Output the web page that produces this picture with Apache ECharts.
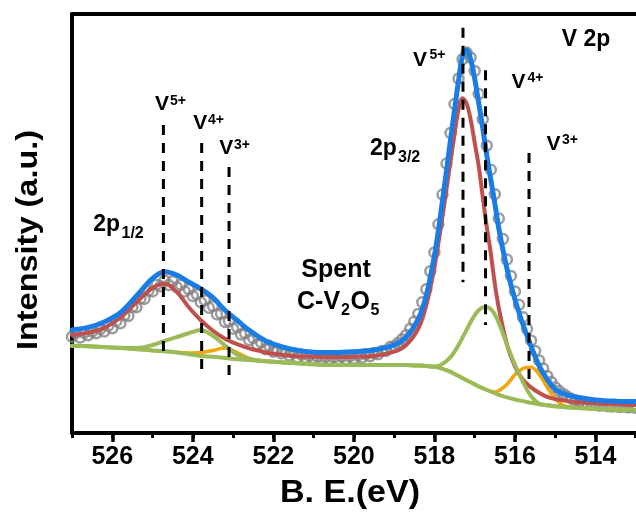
<!DOCTYPE html>
<html>
<head>
<meta charset="utf-8">
<title>V 2p XPS</title>
<script src="https://cdn.jsdelivr.net/npm/echarts@6/dist/echarts.min.js"></script>
<style>
  html, body { margin: 0; padding: 0; background: #fff; }
  #chart { width: 636px; height: 521px; }
</style>
</head>
<body>
<div id="chart"></div>
<script>
// ---- measured spectrum (binding energy grid 527.0 -> 513.0 eV, 0.1 eV step) ----
const E_START = 527.0;
const E_STEP = 0.1;
const measured = [
  23.0,
  23.9, 22.8, 23.9, 23.3, 24.2, 23.8, 24.8, 24.2, 25.6, 25.0,
  26.7, 26.2, 28.1, 27.9, 30.1, 30.0, 32.1, 32.0, 34.0, 33.8,
  35.4, 35.0, 36.4, 35.3, 36.2, 34.8, 35.4, 33.8, 34.3, 32.7,
  33.1, 31.2, 31.7, 29.9, 30.3, 28.3, 28.5, 26.5, 26.7, 24.9,
  25.3, 23.5, 23.8, 22.2, 22.7, 21.1, 21.6, 20.0, 20.8, 19.4,
  20.0, 19.0, 19.4, 18.5, 19.1, 18.1, 18.7, 17.9, 18.4, 17.7,
  18.2, 17.5, 18.1, 17.4, 18.0, 17.5, 18.2, 17.6, 18.3, 17.7,
  18.5, 18.0, 18.8, 18.3, 19.1, 18.8, 19.6, 19.6, 20.5, 20.7,
  21.5, 22.4, 23.4, 24.9, 26.6, 28.4, 31.2, 34.3, 38.6, 43.1,
  49.8, 56.9, 64.3, 71.6, 78.5, 84.6, 89.2, 90.8, 89.6, 86.4,
  80.9, 74.9, 68.6, 62.8, 57.0, 51.2, 46.3, 41.4, 37.5, 33.8,
  30.6, 27.6, 24.8, 22.1, 19.6, 17.3, 15.4, 13.6, 12.2, 10.9,
  10.0, 9.3, 8.7, 8.2, 7.8, 7.5, 7.1, 7.0, 6.8, 6.7,
  6.5, 6.6, 6.4, 6.3, 6.4, 6.2, 6.3, 6.1, 6.2, 6.0
];

// ---- peak-fit curves, sampled at fitE ----
const fitE = [
  527.0, 526.6, 526.2, 525.8, 525.4, 525.0, 524.7, 524.4, 524.1, 523.8,
  523.5, 523.2, 522.9, 522.6, 522.3, 522.0, 521.5, 521.0, 520.5, 520.0,
  519.5, 519.0, 518.7, 518.4, 518.2, 518.0, 517.9, 517.8, 517.7, 517.6,
  517.5, 517.4, 517.3, 517.2, 517.1, 517.0, 516.9, 516.8, 516.7, 516.6,
  516.5, 516.4, 516.2, 516.0, 515.8, 515.6, 515.4, 515.2, 515.0, 514.8,
  514.5, 514.0, 513.5, 513.0
];
const envelope = [
  24.6, 25.2, 26.5, 28.7, 32.7, 36.9, 38.5, 37.7, 36.0, 34.4,
  32.3, 29.3, 26.9, 24.5, 22.6, 21.2, 19.9, 19.3, 19.2, 19.4,
  19.8, 21.0, 22.9, 27.2, 32.9, 42.3, 48.4, 55.4, 62.6, 70.0,
  77.1, 84.1, 90.0, 91.4, 89.2, 84.6, 78.8, 72.8, 66.3, 60.5,
  54.8, 48.8, 39.3, 31.9, 25.9, 20.7, 16.1, 12.8, 10.5, 9.4,
  8.6, 7.9, 7.6, 7.5
];
const v5 = [
  23.4, 23.9, 25.1, 27.5, 31.2, 34.6, 35.6, 33.7, 30.0, 26.9,
  24.4, 22.5, 21.2, 20.2, 19.5, 18.9, 18.4, 18.2, 18.1, 18.2,
  18.4, 19.4, 21.0, 24.9, 30.5, 39.5, 45.4, 51.6, 58.2, 64.8,
  71.3, 77.3, 79.9, 78.6, 74.8, 69.3, 63.7, 56.4, 49.2, 42.9,
  35.7, 29.8, 21.2, 15.9, 12.7, 10.9, 9.6, 8.6, 8.1, 7.8,
  7.4, 7.1, 6.9, 6.7
];
const v4 = [
  20.8, 20.7, 20.5, 20.35, 20.3, 21.0, 22.0, 22.9, 23.8, 24.6,
  23.2, 20.9, 18.7, 17.7, 17.2, 17.0, 16.7, 16.4, 16.2, 16.2,
  16.2, 16.2, 16.2, 16.1, 16.0, 15.9, 16.0, 16.5, 17.2, 18.1,
  19.4, 21.0, 22.8, 24.6, 26.5, 28.1, 29.3, 30.0, 30.1, 29.6,
  28.3, 26.3, 21.2, 16.3, 12.2, 8.8, 7.0, 6.6, 6.4, 6.2,
  6.0, 5.8, 5.6, 5.5
];
const v3 = [
  20.8, 20.7, 20.5, 20.3, 20.0, 19.7, 19.5, 19.3, 19.1, 19.2,
  19.7, 20.3, 19.2, 17.8, 17.3, 17.0, 16.7, 16.4, 16.2, 16.2,
  16.2, 16.2, 16.2, 16.1, 16.0, 15.8, 15.6, 15.3, 15.0, 14.6,
  14.1, 13.6, 13.1, 12.6, 12.1, 11.6, 11.1, 10.7, 10.3, 9.9,
  9.8, 10.1, 11.6, 13.9, 15.4, 15.7, 14.0, 10.9, 8.2, 6.6,
  6.0, 5.8, 5.6, 5.5
];
const background = [
  20.8, 20.7, 20.5, 20.3, 20.0, 19.7, 19.5, 19.2, 18.8, 18.4,
  18.2, 17.9, 17.6, 17.4, 17.2, 17.0, 16.7, 16.4, 16.2, 16.2,
  16.2, 16.2, 16.2, 16.1, 16.0, 15.8, 15.6, 15.3, 15.0, 14.6,
  14.1, 13.6, 13.1, 12.6, 12.1, 11.6, 11.1, 10.7, 10.3, 9.9,
  9.5, 9.1, 8.5, 8.0, 7.6, 7.2, 6.9, 6.6, 6.4, 6.2,
  6.0, 5.8, 5.6, 5.5
];

// ---- component positions (eV): V5+, V4+, V3+ ----
const peaks12 = [524.73, 523.78, 523.10];
const peaks32 = [517.29, 516.73, 515.65];
// vertical extent of the guide lines, in intensity units
const guideTop12 = [73.5, 69.2, 63.5];
const guideBot12 = [18.1, 15.0, 13.4];
const guideTop32 = [96.7, 86.6, 66.8];
const guideBot32 = [36.0, 25.8, 11.0];

// ---- axis ----
const X_MIN = 512, X_MAX = 527, X_MAJOR = 2, X_MINOR = 1;

const FONT = '"Liberation Sans", Arial, Helvetica, sans-serif';
const C_BLUE = '#1A7DE6', C_RED = '#C0504D', C_GREEN = '#9BBB59', C_ORANGE = '#F2A60C', C_GRAY = '#858585';

const pairs = (xs, ys) => xs.map((x, i) => [x, ys[i]]);
const expData = measured.map((v, i) => [+(E_START - i * E_STEP).toFixed(2), v]);

function fitLine(name, ys, color, width) {
  return {
    name, type: 'line', data: pairs(fitE, ys), smooth: 0.35, symbol: 'none',
    lineStyle: { color, width, cap: 'round', join: 'round' }, silent: true
  };
}
function guide(e, top, bot) {
  return {
    type: 'line', data: [[e, top], [e, bot]], symbol: 'none', silent: true,
    lineStyle: { color: '#000', width: 3, type: [10, 8] }, z: 5
  };
}

const xBase = { type: 'value', min: X_MIN, max: X_MAX, inverse: true, splitLine: { show: false } };

const series = [
  {
    name: 'measured', type: 'scatter', data: expData, symbol: 'circle', symbolSize: 10,
    itemStyle: { color: 'rgba(0,0,0,0)', borderColor: C_GRAY, borderWidth: 2.5 }, silent: true
  },
  fitLine('V3+', v3, C_ORANGE, 3.5),
  fitLine('background', background, C_GREEN, 4),
  fitLine('V5+', v5, C_RED, 4),
  fitLine('V4+', v4, C_GREEN, 4),
  fitLine('fit', envelope, C_BLUE, 5)
];
peaks12.forEach((e, i) => series.push(guide(e, guideTop12[i], guideBot12[i])));
peaks32.forEach((e, i) => series.push(guide(e, guideTop32[i], guideBot32[i])));

// ---- annotation text: [text, left x, centre y, size] ----
const notes = [
  ['V', 155, 104, 21], ['5+', 170, 101.5, 14],
  ['V', 193.3, 123.3, 21], ['4+', 208, 120, 14],
  ['V', 219.3, 148.3, 21], ['3+', 234, 145, 14],
  ['V', 413, 60, 21], ['5+', 429.5, 55, 14],
  ['V', 511.5, 82.5, 21], ['4+', 527.5, 78, 14],
  ['V', 546.5, 144, 21], ['3+', 562, 140, 14],
  ['2p', 93.3, 225, 23], ['1/2', 121.5, 234, 16],
  ['2p', 370, 149, 23], ['3/2', 398, 157.5, 16],
  ['V 2p', 561.7, 40, 23],
  ['C-V', 297, 302.5, 25], ['2', 341, 311, 16], ['O', 350.5, 302.5, 25], ['5', 370.5, 311, 16]
];
const graphic = notes.map(([t, x, y, s]) => ({
  type: 'text', x, y, silent: true,
  style: { text: t, font: 'bold ' + s + 'px ' + FONT, fill: '#000', textAlign: 'left', textVerticalAlign: 'middle' }
}));
graphic.push({
  type: 'text', x: 336, y: 270, silent: true,
  style: { text: 'Spent', font: 'bold 25px ' + FONT, fill: '#000', textAlign: 'center', textVerticalAlign: 'middle' }
});
graphic.push({
  type: 'text', x: 350, y: 493, scaleX: 1.1, silent: true,
  style: { text: 'B. E.(eV)', font: 'bold 31px ' + FONT, fill: '#000', textAlign: 'center', textVerticalAlign: 'middle' }
});
graphic.push({
  type: 'text', x: 29, y: 240, rotation: Math.PI / 2, scaleX: 1.12, silent: true,
  style: { text: 'Intensity (a.u.)', font: 'bold 29px ' + FONT, fill: '#000', textAlign: 'center', textVerticalAlign: 'middle' }
});

const chart = echarts.init(document.getElementById('chart'), null, { renderer: 'canvas' });
chart.setOption({
  animation: false,
  backgroundColor: '#fff',
  grid: { left: 72, top: 14, width: 604, height: 419, containLabel: false, outerBoundsMode: 'none' },
  xAxis: [
    Object.assign({}, xBase, {
      position: 'bottom', interval: X_MAJOR,
      axisLine: { show: true, onZero: false, lineStyle: { color: '#000', width: 4 } },
      axisTick: { show: true, length: 9, lineStyle: { color: '#000', width: 3.5 } },
      axisLabel: { show: true, margin: 12, fontSize: 25, fontWeight: 'bold', fontFamily: FONT, color: '#000', showMinLabel: false, showMaxLabel: false }
    }),
    Object.assign({}, xBase, {
      position: 'bottom', interval: X_MINOR,
      axisLine: { show: false }, axisLabel: { show: false },
      axisTick: { show: true, length: 5, lineStyle: { color: '#000', width: 3 } }
    }),
    Object.assign({}, xBase, {
      position: 'top',
      axisLine: { show: true, onZero: false, lineStyle: { color: '#000', width: 4 } },
      axisTick: { show: false }, axisLabel: { show: false }
    })
  ],
  yAxis: {
    type: 'value', min: 0, max: 100,
    axisLine: { show: true, onZero: false, lineStyle: { color: '#000', width: 4 } },
    axisTick: { show: false }, axisLabel: { show: false }, splitLine: { show: false }
  },
  series,
  graphic
});
</script>
</body>
</html>
